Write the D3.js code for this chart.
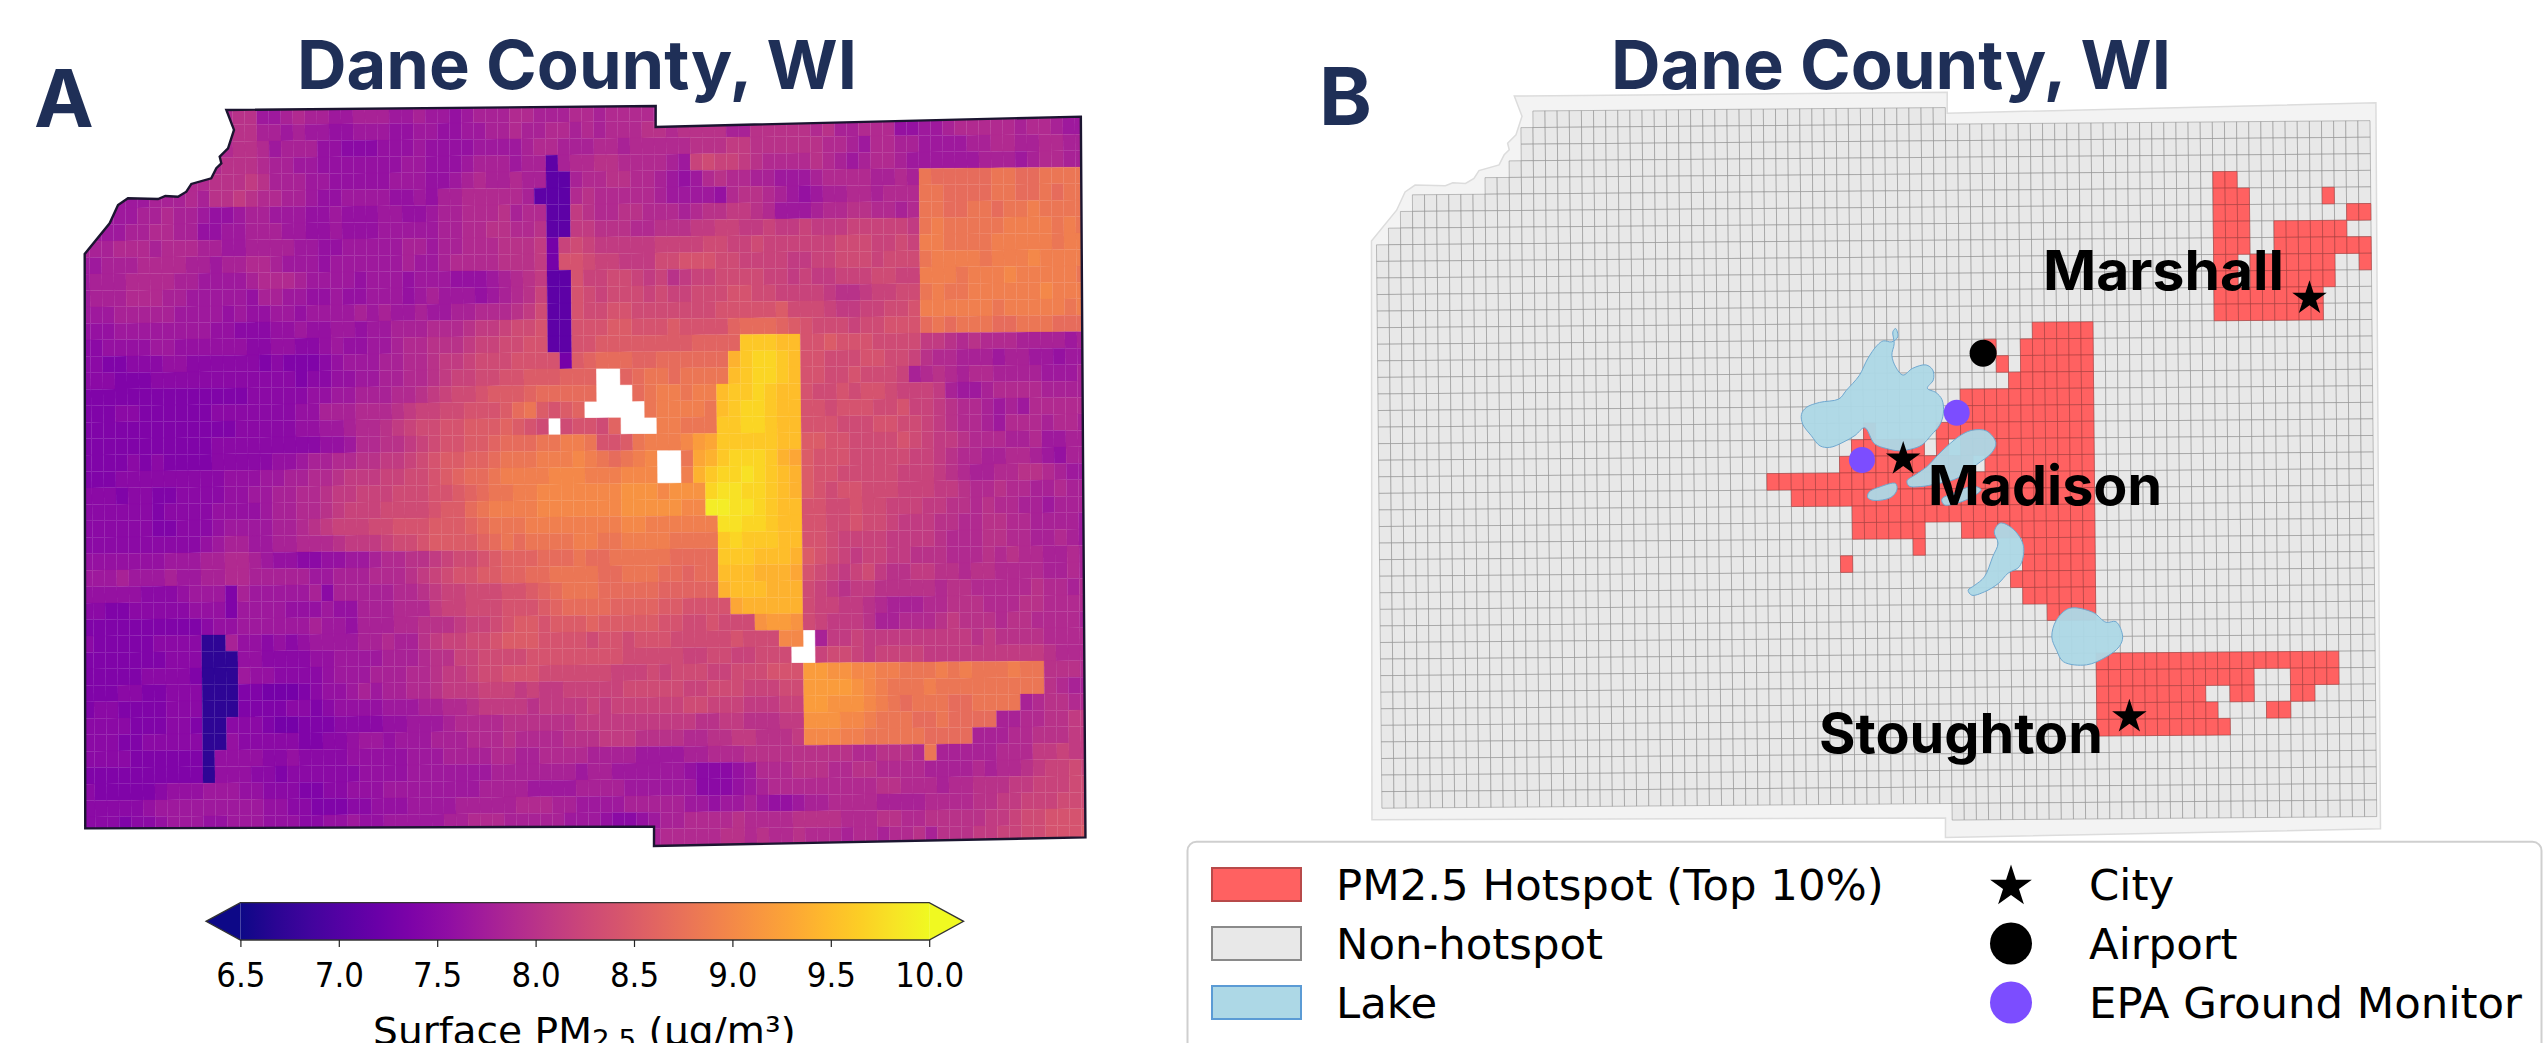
<!DOCTYPE html>
<html>
<head>
<meta charset="utf-8">
<title>Dane County PM2.5</title>
<script src="https://cdn.jsdelivr.net/npm/d3@7"></script>
<style>
  body { margin: 0; background: #fff; overflow: hidden; }
  svg { display: block; }
</style>
</head>
<body>
<svg id="chart" width="2544" height="1043"></svg>
<script>
// surface PM2.5 per grid cell, one string per row, 12 cells per block.
// a = 6.5, b = 6.6 ... z = 9.0, A = 9.1 ... J = 10.0, "." = no data
const pmLevels = 'abcdefghijklmnopqrstuvwxyzABCDEFGHIJ';
const pmRows = [
  '............ oppmmnonnmmn nnmmnmmlmnnn oonnnoonoooo nnnnnnnnnnnn nnnnnnnnnnnn nnnnnnnnnnnn',
  '............ oppnnmnmmllm mmllmmllmmnn onnoononooop poppppnnpppp popnnooollmm nooooonoonmm',
  '............ oppomnnnllkk klllmllllmmm mnoonnnoonoo ooopppqqpppp ppoonmoonnmm mmnnoonnoonn',
  '...........o ppponnmmllll lllmmlllmnnn mnngnooppooo onmrsrrqpooo oponmnoonmmm mmmnnnmnoonn',
  '........ooop ppqpnnnmmlll llmmmllmnonn onnggnooppoo nmlmopoonnmm mnoooonnonxw wwwwxxwwxxxx',
  '...mmmnnnonp pqpoonnmllmm mmllmlnnoooo ongggopooooo nmmmmlopponm lmnnoonoooxx wwwwxxwwxwxx',
  '..mmmnnonnml lmnnmmmllmll lmmllmnnooop nooggqpooppo oonoppqqpomm mnooppoonoxx wwxxwxxyxxxx',
  '.mmmnnoonnll mmnnnmmllmll lmmmmmnnoopp oopggqqpppoo pppqqrrqqrqq rqqqrrrrrqxy xxxxxyyyyxyx',
  'nnnooonooonn mmnnnnmmllmm mmmnnmnnooop ppqirsrqqqqq rrrrssrrsrrr rrrsssrrsryy xxxxyyyyyxyy',
  'mmnnnoooonnm nnoonmmmlmmm mmmnmmnoooop ppqittsrrqqq sstttssrrrrq qrrsssrsssxy yyyxyyyzyyyy',
  'mnnnoooonnmm mmnooonmmmml mmmlmmmlllmn opqggtrrssrq rpqrrssssrrq rqqrrrssrryy yxyyyzyyyyyx',
  'mnnnooonnmmm mmlnnmmllmll mmmlmnmmmlmn oprggtsrsssr srrsssttssrr rrqppqrrssxy xxyyyyyyzyyy',
  'mmmnnnnnmmmm lmllmmlmmmmn mnmmnmmnnooo pqsggtssttss ssssstttttus ssrqqrrsstyy yyyyxyyyyyxy',
  'lllmmmmmmmml lkkkllmllmml mmnnnooopqqr sstggtttuutt tuttttvwwwvu tsssrsstttwx wxxxwwxxxwww',
  'kkllllmmllll llkkllkklmll mmnoopppqrrs sttggttuuuuu uuuvvvvFFFEE ttutttssssqq popooonnnnmn',
  'kkjjkkkllkkk kkkjkjjjklmm mnnoopqqrsss ttttiuvwwwvv wwwwwwDFGGFE ttsssttssrpo onnnmnnmmlmm',
  'kkkjjjkkkkkk kkkkkkjkkllm mnnoopqrrsst tuuuvvv..vwx xwxxxxEFGGFE ttsstsssrnop onoonnnnmmmn',
  'jjjjjjjjjjjj jjkkkkkllmmn nnoopqrsstuu uvwwwww...wx yyxyyEFFGFEE tsststtsrrrq nmmnoooonnnn',
  'jjjkkjjjjjjk kkkkkkllnnno oopqrrsstttu wxutuv.....x yyyyxEFGGFEE ttstttsstrrq poonmnmooooo',
  'jjjjjjjjjjjj jkkkkkllmmno opqrssttuuuv uts.sttsv... yyxxxFFGGFEE tttsssttssrq poonmooonoon',
  'jjjjjjjjjjjk kkkkkkkkllmo oppqrsttuuvw wwxxyyxttuxy yyzBCFFFFFEE uuttsssstsrq qpooonnommnn',
  'jjjjkjkjjjjk kkkkllmnnoop pqqrstuuvvwx xxyyyzyxwxyz ..xCDFGGGFDC utttsssssrrq poonnoonmlnn',
  'jjjkkkkkkkkk lllmmnnoopqq qrrsstuvwwxy yyyzzzyyyzzz ..yDFGGHGFED uttsssssrrrq ponnoopponmm',
  'kkkjkkjjkkkk llmmnnoopqqr rrsssttuvwxx yyzzzzzzzAAA zAAAGHHGGFED utsttsssrrrq qpoopoonnonn',
  'kkkkkkjkkkkl lllmnnoopqrr rsssstuuwxyy yyzzzzzzzAAA AAzzIIHHGFEE ttsstssrrrqq ppopoonnmnnn',
  'kkkkkkjjkkkl mmmmnnopqrrr sstttuuuvwxx xyyyyyyyyzzy yyyyyHHGGFEE ttsstssrqqqp pooppoonnnnm',
  'kkkkkkkkkklm nnmmnnooopqq qrsstuuuuvwx wxxxxyyxxyyy yxxxxFGFFFEE ttsrrrrqqqqp oooppoonnonm',
  'lllllllmmmnn oonmllkkllmm nooppqrsstuv vvwwwxwwxxxx xwwwwFFFEEED utsrqrrqqppp ooopopoonnon',
  'mmmnmmmnmmnn oonnnnnmmnnn ooopqrsttuuv vwwxxxxwwxxx wwvwwEEEDDDC tsrqrsqppqqp poppoooonnon',
  'lllllkkklmmm jnmmmmmnknnn nnoopqrrssst tuvwxxxwwwww vvvvvDEEEDDD srqpqqpppppo ppooooopoono',
  'kkjjkkkkklll jmmmmlllmlln nnoooqrrssst ttuvwwwwvvvv uuttttCDDDDD srrqqponnnoo pppoooppoooo',
  'jjjjjjjjjjkl lmmmmmmnmmln nnoopppqrrst uutuuuvuuuuu ttsstsssABBA srqqqpnnooop qpppoppoooon',
  'kjjjjjkkkkcc nllklklmmmmn nonnpqrrsstu uuttttsttstt tssssstssszz .nqqrqqqqqqq qqpqppppoooo',
  'jjjjjjjkkkcc cllkkkkllmmm mnnnopprrsss sttttttttsss ssrrssrrsss. .rssrqrrrrqq qqqqqqqqpooo',
  'jjjjjkkkkjcc cmllkkkklmmm nnnoopqqrsst ttssssssrrrs rsssrrsssttt BBAAzzyyxxxy xyxxxyxxpppo',
  'jjjkkjjkkkcc cjjiiijkllmn mnnoopqqqrrr qrqqrrrrrsss ssrrsssrrrss BBBBAzyxxxyx xxxxxxxxponn',
  'jkkjjjjkkkcc cjjjjkkjklll lmmmnnoopqqq qpqqqqrqrrrr rrssrrrqqqrr BBAAAzyxwxxx wwxxxxnoppoo',
  'kkkkjjjkkjcc kkkjiijjjkkk kllmmmnoooop pppppqqqqqqq qqqppqqpppqq AAAzzyxxxwwx wwwwnnooppqq',
  'kkkjjkkkkkcc lkkkkkjjkklm mlmmmnnnooop oooopppqqqpp ppooppqqpppq zzzyyxxxxxww wwnnnoopppqq',
  'kkkkjjjjjjcl lllkklkkkkll lllmmmnnnnoo nnoooonnnnmm mmnnoooppppp ppppoopppoxn nnnnoooqqrqq',
  'jjjjjjjjjjcl llkkjkkkkkkl lllmmmmmmmnn nnnnnmnnmmmm mmlkkklmooop ppooppoooonn nnonoopqrrsr',
  'kjjjjjklllmm mllkkkjjkkll lmmmmmmmmnnn nmmmmnnnnmmm mmmkkklmnooo ooooooppooon oopppqqrrrss',
  'kkkkklmmmmmm mmmllkkjjjkk lllmmmmnnnnn ooonnmmmmnnn nnmmlmmnmllm nnoooonnnnoo ooppqqrrrsss',
  'kkkjkklmmmll mmmlllkkllml lmmmmmnnooon nnnnmmmlkklm nnoooopoooop pppoooppoopp pppqqrsstttt',
  'kkkkkkkkkkkk llllllllllll mmmmmmmmmmmm nnnnnnnnnnnn oooooppopoop ooonoonoopnp ppqqrrsstttu'
].map(d => d.replace(/ /g, ''));

// top 10% cells in panel B: [row, first col, last col]
const hotspotRanges = [
  [5, 70, 71], [6, 70, 72], [6, 79, 79], [7, 70, 72], [7, 81, 82], [8, 70, 72], [8, 75, 80],
  [9, 70, 72], [9, 75, 82], [10, 70, 71], [10, 73, 79], [10, 82, 82], [11, 70, 71], [11, 73, 79],
  [12, 70, 78], [13, 70, 78], [14, 55, 59], [15, 51, 51], [15, 54, 59], [16, 52, 52], [16, 54, 59],
  [17, 53, 59], [18, 49, 59], [19, 49, 59], [20, 41, 41], [20, 47, 59], [21, 40, 45], [21, 47, 47],
  [21, 49, 59], [22, 39, 49], [22, 51, 59], [23, 33, 59], [24, 35, 59], [25, 40, 59], [26, 40, 45],
  [26, 49, 59], [27, 45, 45], [27, 54, 59], [28, 39, 39], [28, 54, 59], [29, 53, 59], [30, 54, 59],
  [31, 56, 59], [34, 60, 79], [35, 60, 72], [35, 76, 79], [36, 60, 68], [36, 71, 72], [36, 76, 77],
  [37, 60, 69], [37, 74, 75], [38, 60, 70]
];

// first column of the grid in the north-west corner, by row (row 9 and on start at col 1)
const firstColByRow = [99, 14, 13, 13, 12, 10, 4, 3, 2];

// county border and lakes in grid units [col, row]
const countyBorder = [
  [12.48, 0.09], [48.17, 0.07], [48.15, 1.34], [83.5, 0.93], [83.3, 44.74], [47.43, 45.05],
  [47.45, 43.87], [0.17, 43.69], [0.59, 8.77], [2.69, 6.92], [3.4, 5.82], [4.23, 5.41],
  [6.73, 5.47], [7.34, 5.29], [8.39, 5.34], [9.09, 5.04], [9.51, 4.57], [11.17, 4.24],
  [11.6, 3.63], [12.02, 3.33], [11.89, 2.93], [12.59, 2.43], [13.1, 1.31]
];
const lakeMendota = [
  [43.73, 14.31], [43.9, 14.81], [43.4, 15.11], [42.7, 15.05], [42.2, 15.31], [41.4, 16.12],
  [40.7, 17.12], [39.6, 18.03], [39, 18.53], [37.4, 18.73], [36.3, 19.03], [35.9, 19.44],
  [36, 20.04], [36.7, 20.74], [37.4, 21.35], [38.2, 21.45], [39.3, 21.15], [40.3, 20.74],
  [41.1, 20.28], [41.9, 21.25], [42.9, 21.55], [43.9, 21.69], [44.8, 21.61], [45.8, 21.35],
  [46.6, 20.74], [47.3, 20.14], [47.6, 19.44], [47.5, 18.63], [47, 18.19], [46.3, 17.93],
  [46.8, 17.42], [46.75, 16.82], [46.2, 16.52], [45.1, 16.72], [44.3, 17.12], [43.7, 16.62],
  [43.4, 15.92], [43.6, 15.21], [43.5, 14.5]
];
const lakeMonona = [
  [44.55, 23.5], [45.2, 23.16], [46.2, 22.66], [47, 22.05], [47.85, 21.45], [49.1, 20.74],
  [50, 20.48], [51.15, 20.54], [51.9, 21.25], [51.55, 21.85], [50.3, 22.56], [49.5, 23.06],
  [48.4, 23.46], [47, 23.7], [45.65, 23.86], [44.7, 23.82]
];
const lakeMononaBay = [
  [47.4, 24.63], [48.4, 24.27], [50, 23.86], [50.65, 24.07], [50, 24.47], [48.7, 24.87], [47.6, 24.97]
];
const lakeWingra = [
  [41.4, 24.17], [42.3, 23.86], [43.6, 23.66], [43.7, 24.06], [43.2, 24.5], [41.8, 24.67], [41.3, 24.5]
];
const lakeWaubesa = [
  [52.2, 26.1], [53.3, 26.5], [54.1, 27.52], [53.75, 28.73], [52.8, 29.13], [52, 29.74],
  [50.85, 30.24], [49.8, 30.44], [49.5, 30.14], [50.05, 29.84], [50.85, 29.34], [51.55, 28.13],
  [52, 27.32], [51.7, 26.62]
];
const lakeKegonsa = [
  [57.83, 31.28], [59.75, 31.53], [60.84, 32.14], [61.66, 32.11], [62.2, 33.02], [61.9, 33.62],
  [60.84, 34.22], [59.2, 34.7], [57.3, 34.5], [56.74, 33.8], [56.36, 33], [56.74, 32]
];
const lakes = [lakeMendota, lakeMonona, lakeMononaBay, lakeWingra, lakeWaubesa, lakeKegonsa];

// point features in grid units
const cities = [
  { name: 'Marshall', col: 77.87, row: 12.69 },
  { name: 'Madison', col: 44.25, row: 22.19 },
  { name: 'Stoughton', col: 62.69, row: 37.86 }
];
const airports = [{ col: 50.92, row: 15.84 }];
const monitors = [{ col: 48.7, row: 19.42 }, { col: 40.85, row: 22.23 }];

const colorbarTicks = [6.5, 7, 7.5, 8, 8.5, 9, 9.5, 10];
const legendLeft = ['PM2.5 Hotspot (Top 10%)', 'Non-hotspot', 'Lake'];
const legendRight = ['City', 'Airport', 'EPA Ground Monitor'];

const NAVY = '#1f2f57';
const RED = '#ff6161';
const LAKE = '#add8e6';
const PURPLE = '#7c4dff';
const DEJAVU = '"DejaVu Sans", sans-serif';

const svg = d3.select('#chart');
const color = d3.scaleSequential(d3.interpolatePlasma).domain([6.5, 10]);

// the grid sits rotated by about half a degree, so each panel needs a small shear
function makeProjection(x0, y0, cellW, cellH) {
  const xCol = d3.scaleLinear().domain([0, 84]).range([x0, x0 + cellW * 84]);
  const xRow = d3.scaleLinear().domain([0, 45]).range([0, 7.2]);
  const yRow = d3.scaleLinear().domain([0, 45]).range([y0, y0 + cellH * 45]);
  const yCol = d3.scaleLinear().domain([0, 84]).range([0, -8.4]);
  return (c, r) => [xCol(c) + xRow(r), yRow(r) + yCol(c)];
}
const projA = makeProjection(76.2, 109.7, 12.03, 16.45);
const projB = makeProjection(1362.9, 95.8, 12.13, 16.57);

function cellPath(proj, c, r) {
  return d3.line()([proj(c, r), proj(c + 1, r), proj(c + 1, r + 1), proj(c, r + 1)]) + 'Z';
}
function shapePath(proj, points) {
  return d3.line()(points.map(p => proj(p[0], p[1]))) + 'Z';
}

// ---------- panel A ----------
const panelA = svg.append('g');
svg.append('clipPath').attr('id', 'county-clip')
  .append('path').attr('d', shapePath(projA, countyBorder));

const pmCells = [];
pmRows.forEach((line, r) => {
  if (line.length !== 84) console.warn('row', r, line.length);
  line.split('').forEach((ch, c) => {
    if (ch !== '.') pmCells.push({ c, r, value: 6.5 + pmLevels.indexOf(ch) * 0.1 });
  });
});

panelA.append('g')
  .attr('clip-path', 'url(#county-clip)')
  .append('g')
  .style('filter', 'blur(0.7px)')
  .selectAll('path')
  .data(pmCells)
  .join('path')
  .attr('d', d => cellPath(projA, d.c, d.r))
  .attr('fill', d => color(d.value))
  .attr('stroke', d => color(d.value))
  .attr('stroke-width', 0.25);

panelA.append('path')
  .attr('d', shapePath(projA, countyBorder))
  .attr('fill', 'none')
  .attr('stroke', '#1b1530')
  .attr('stroke-width', 2.4);

// ---------- colorbar ----------
const cbX = d3.scaleLinear().domain([6.5, 10]).range([240.4, 929.2]);
const cbTop = 902.7;
const cbBottom = 940;
const cbMid = (cbTop + cbBottom) / 2;

const gradient = svg.append('defs').append('linearGradient').attr('id', 'plasma-bar');
d3.range(0, 1.001, 0.05).forEach(t => {
  gradient.append('stop').attr('offset', t).attr('stop-color', d3.interpolatePlasma(t));
});
svg.append('rect')
  .attr('x', cbX(6.5)).attr('y', cbTop)
  .attr('width', cbX(10) - cbX(6.5)).attr('height', cbBottom - cbTop)
  .attr('fill', 'url(#plasma-bar)');
svg.append('path')
  .attr('d', d3.line()([[cbX(6.5), cbTop], [206, cbMid], [cbX(6.5), cbBottom]]) + 'Z')
  .attr('fill', d3.interpolatePlasma(0));
svg.append('path')
  .attr('d', d3.line()([[cbX(10), cbTop], [963.6, cbMid], [cbX(10), cbBottom]]) + 'Z')
  .attr('fill', d3.interpolatePlasma(1));
svg.append('path')
  .attr('d', d3.line()([[cbX(6.5), cbTop], [cbX(10), cbTop], [963.6, cbMid], [cbX(10), cbBottom],
    [cbX(6.5), cbBottom], [206, cbMid]]) + 'Z')
  .attr('fill', 'none')
  .attr('stroke', '#333')
  .attr('stroke-width', 1.3);

const cbAxis = svg.append('g')
  .attr('transform', `translate(0, ${cbBottom})`)
  .call(d3.axisBottom(cbX).tickValues(colorbarTicks).tickFormat(d3.format('.1f')).tickSize(7));
cbAxis.select('.domain').remove();
cbAxis.selectAll('line').attr('stroke', '#222').attr('stroke-width', 1.2);
cbAxis.selectAll('text')
  .attr('font-family', DEJAVU)
  .attr('font-size', 34)
  .attr('fill', '#000')
  .attr('dy', 0)
  .attr('y', 46.7)
  .attr('transform', 'scale(0.91, 1)');

// the reference crops this label at the bottom of the image
const cbLabel = svg.append('text')
  .attr('transform', 'translate(584.5, 1044) scale(1.03, 1)')
  .attr('text-anchor', 'middle')
  .attr('font-family', DEJAVU)
  .attr('font-size', 38)
  .attr('fill', '#000');
cbLabel.append('tspan').text('Surface PM');
cbLabel.append('tspan').attr('font-size', 27).attr('dy', 5).text('2.5');
cbLabel.append('tspan').attr('dy', -5).text(' (μg/m³)');

// ---------- panel B ----------
const panelB = svg.append('g');
panelB.append('path')
  .attr('d', shapePath(projB, countyBorder))
  .attr('fill', '#f3f3f3')
  .attr('stroke', '#dcdcdc')
  .attr('stroke-width', 1.5);

const gridCells = [];
d3.range(1, 83).forEach(c => {
  d3.range(1, 44).forEach(r => {
    const minCol = r < firstColByRow.length ? firstColByRow[r] : 1;
    if (c < minCol) return;
    if (c >= 48 && r < 2) return;
    if (c < 48 && r > 42) return;
    gridCells.push({ c, r });
  });
});

panelB.append('g')
  .selectAll('path')
  .data(gridCells)
  .join('path')
  .attr('d', d => cellPath(projB, d.c, d.r))
  .attr('fill', '#e8e8e8')
  .attr('stroke', '#808080')
  .attr('stroke-opacity', 0.48)
  .attr('stroke-width', 1);

const hotCells = hotspotRanges.flatMap(([r, from, to]) => d3.range(from, to + 1).map(c => ({ c, r })));
panelB.append('g')
  .selectAll('path')
  .data(hotCells)
  .join('path')
  .attr('d', d => cellPath(projB, d.c, d.r))
  .attr('fill', RED)
  .attr('stroke', '#a83a3a')
  .attr('stroke-opacity', 0.55)
  .attr('stroke-width', 1);

panelB.append('g')
  .selectAll('path')
  .data(lakes)
  .join('path')
  .attr('d', d => d3.line().curve(d3.curveCatmullRomClosed)(d.map(p => projB(p[0], p[1]))))
  .attr('fill', LAKE)
  .attr('fill-opacity', 0.95)
  .attr('stroke', '#6fa8d0')
  .attr('stroke-width', 1);

panelB.append('g')
  .selectAll('circle')
  .data(airports)
  .join('circle')
  .attr('cx', d => projB(d.col, d.row)[0])
  .attr('cy', d => projB(d.col, d.row)[1])
  .attr('r', 13.5)
  .attr('fill', '#000');

panelB.append('g')
  .selectAll('circle')
  .data(monitors)
  .join('circle')
  .attr('cx', d => projB(d.col, d.row)[0])
  .attr('cy', d => projB(d.col, d.row)[1])
  .attr('r', 13)
  .attr('fill', PURPLE);

const starPath = d3.symbol(d3.symbolStar, 370);
panelB.append('g')
  .selectAll('path')
  .data(cities)
  .join('path')
  .attr('transform', d => `translate(${projB(d.col, d.row)})`)
  .attr('d', starPath)
  .attr('fill', '#000');

// city names, placed by hand next to the stars
const cityLabelPos = { Marshall: [2043, 290, 241], Madison: [1928, 505, 234], Stoughton: [1819, 753, 284] };
panelB.append('g')
  .selectAll('text')
  .data(cities)
  .join('text')
  .attr('x', d => cityLabelPos[d.name][0])
  .attr('y', d => cityLabelPos[d.name][1])
  .attr('textLength', d => cityLabelPos[d.name][2])
  .attr('lengthAdjust', 'spacingAndGlyphs')
  .attr('font-family', 'Inter, sans-serif')
  .attr('font-weight', 700)
  .attr('font-size', 55)
  .attr('fill', '#000')
  .text(d => d.name);

// ---------- titles and panel letters ----------
[[297, 560], [1611, 560]].forEach(([x, w]) => {
  svg.append('text')
    .attr('x', x).attr('y', 89)
    .attr('textLength', w)
    .attr('lengthAdjust', 'spacingAndGlyphs')
    .attr('font-family', 'Inter, sans-serif')
    .attr('font-weight', 700)
    .attr('font-size', 68)
    .attr('fill', NAVY)
    .text('Dane County, WI');
});
[['A', 34, 127], ['B', 1319, 125]].forEach(([letter, x, y]) => {
  svg.append('text')
    .attr('x', x).attr('y', y)
    .attr('font-family', 'Inter, sans-serif')
    .attr('font-weight', 700)
    .attr('font-size', 80)
    .attr('fill', NAVY)
    .text(letter);
});

// ---------- legend ----------
const legend = svg.append('g');
legend.append('rect')
  .attr('x', 1187.5).attr('y', 841.7)
  .attr('width', 1354).attr('height', 260)
  .attr('rx', 9)
  .attr('fill', '#fff')
  .attr('stroke', '#cfcfcf')
  .attr('stroke-width', 2);

const legendY = d3.scaleLinear().domain([0, 2]).range([884.5, 1002.5]);
const swatchFill = [RED, '#e8e8e8', LAKE];
const swatchStroke = ['#b84a4a', '#8a8a8a', '#5b9bd5'];

legend.append('g')
  .selectAll('rect')
  .data(legendLeft)
  .join('rect')
  .attr('x', 1212).attr('width', 89)
  .attr('y', (d, i) => legendY(i) - 16.5).attr('height', 33)
  .attr('fill', (d, i) => swatchFill[i])
  .attr('stroke', (d, i) => swatchStroke[i])
  .attr('stroke-width', 2);

function legendLabels(labels, x) {
  legend.append('g')
    .selectAll('text')
    .data(labels)
    .join('text')
    .attr('transform', (d, i) => `translate(${x}, ${legendY(i) + 15.5}) scale(1.01, 1)`)
    .attr('font-family', DEJAVU)
    .attr('font-size', 43)
    .attr('fill', '#000')
    .text(d => d);
}
legendLabels(legendLeft, 1336);
legendLabels(legendRight, 2089);

legend.append('path')
  .attr('transform', `translate(2011, ${legendY(0) + 2})`)
  .attr('d', d3.symbol(d3.symbolStar, 540))
  .attr('fill', '#000');
legend.append('circle').attr('cx', 2011).attr('cy', legendY(1)).attr('r', 21).attr('fill', '#000');
legend.append('circle').attr('cx', 2011).attr('cy', legendY(2)).attr('r', 21).attr('fill', PURPLE);
</script>
</body>
</html>
